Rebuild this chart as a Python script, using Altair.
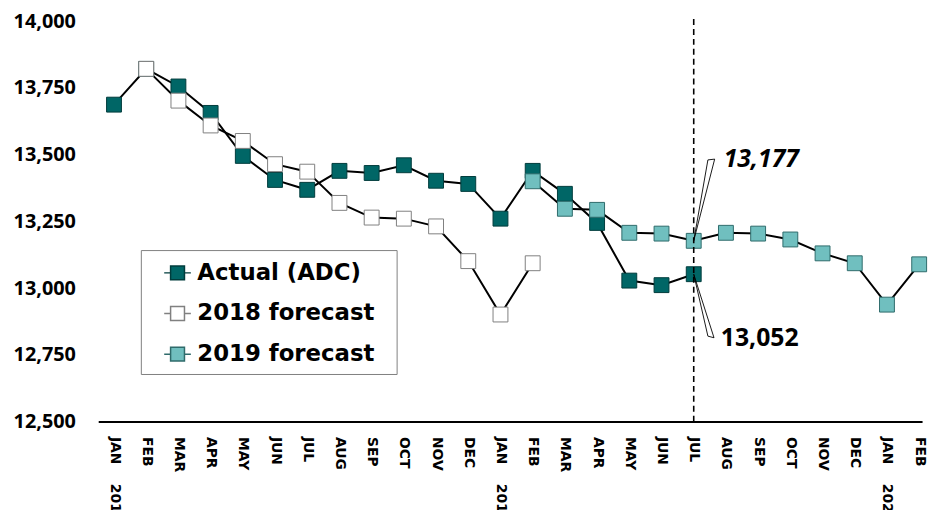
import json
import altair as alt
import pandas as pd

NB = "\u00a0"
MONTH_LABELS = [
    "JAN" + NB * 4 + "2018", "FEB", "MAR", "APR", "MAY", "JUN", "JUL", "AUG",
    "SEP", "OCT", "NOV", "DEC",
    "JAN" + NB * 4 + "2019", "FEB", "MAR", "APR", "MAY", "JUN", "JUL", "AUG",
    "SEP", "OCT", "NOV", "DEC",
    "JAN" + NB * 4 + "2020", "FEB",
]

SERIES = ["Actual (ADC)", "2018 forecast", "2019 forecast"]
FILLS = ["#006666", "#ffffff", "#70bfbf"]
STROKES = ["#003c3c", "#808080", "#2f6b6b"]

ACTUAL_START = 0
ACTUAL = [13687, 13821, 13755, 13656, 13495, 13405, 13368, 13439, 13431, 13460,
          13402, 13390, 13260, 13439, 13353, 13244, 13028, 13011, 13052]
FC2018_START = 1
FC2018 = [13821, 13702, 13609, 13551, 13464, 13436, 13319, 13264, 13260, 13231,
          13101, 12901, 13093]
FC2019_START = 13
FC2019 = [13400, 13297, 13293, 13207, 13204, 13177, 13207, 13204, 13182, 13130,
          13093, 12938, 13089]

Y_TICKS = [12500, 12750, 13000, 13250, 13500, 13750, 14000]
MARKER_MONTH = 18

# callout wedges (month index, value) and their labels
WEDGE_HIGH_X = [18, 18.44, 18.65]
WEDGE_HIGH_Y = [13177, 13480, 13483]
WEDGE_LOW_X = [18, 18.44, 18.63]
WEDGE_LOW_Y = [13052, 12820, 12814]
LABEL_X = [18.93, 18.84]
LABEL_Y = [13484, 12812]
LABEL_TEXT = ["13,177", "13,052"]

rows = []
for name, start, vals in [(SERIES[0], ACTUAL_START, ACTUAL),
                          (SERIES[1], FC2018_START, FC2018),
                          (SERIES[2], FC2019_START, FC2019)]:
    for i, v in enumerate(vals):
        rows.append({"series": name, "idx": start + i, "value": v})
df = pd.DataFrame(rows)

wedge_rows = []
for wid, xs, ys in [("high", WEDGE_HIGH_X, WEDGE_HIGH_Y), ("low", WEDGE_LOW_X, WEDGE_LOW_Y)]:
    for k, (wx, wy) in enumerate(zip(xs, ys)):
        wedge_rows.append({"wid": wid, "ord": k, "idx": wx, "value": wy})
wedge_df = pd.DataFrame(wedge_rows)

label_df = pd.DataFrame({"idx": LABEL_X, "value": LABEL_Y, "text": LABEL_TEXT})

x_scale = alt.Scale(domain=[-0.49, 25.09], nice=False, zero=False)
y_scale = alt.Scale(domain=[12500, 14000], nice=False, zero=False)

label_expr = json.dumps(MONTH_LABELS, ensure_ascii=False) + "[datum.value]"

x_axis = alt.Axis(values=list(range(len(MONTH_LABELS))), labelExpr=label_expr,
                  labelAngle=90, labelAlign="left", labelBaseline="middle",
                  labelFont="DejaVu Sans", labelFontWeight="bold", labelFontSize=14,
                  labelColor="black", labelPadding=15, ticks=False,
                  domainColor="black", domainWidth=2, grid=False, title=None,
                  labelOverlap=False, labelFlush=False, labelBound=False,
                  labelLimit=300)
y_axis = alt.Axis(values=Y_TICKS, format=",.0f", labelFont="Open Sans",
                  labelFontWeight="bold", labelFontSize=20, labelColor="black",
                  labelPadding=23, ticks=False, domain=False, grid=False, title=None)

X = alt.X("idx:Q", scale=x_scale, axis=x_axis)
Y = alt.Y("value:Q", scale=y_scale, axis=y_axis)

lines = alt.Chart(df).mark_line(color="black", strokeWidth=2).encode(
    x=X, y=Y, detail="series:N")

legend = alt.Legend(
    orient="none", legendX=43, legendY=231,
    title="x", titleOrient="right", titleColor="white", titleFontSize=10,
    titlePadding=8,
    labelFont="DejaVu Sans", labelFontWeight="bold", labelFontSize=23,
    labelColor="black", labelLimit=500,
    symbolType="M-0.96,0H-0.5M0.5,0H0.96M-0.5,-0.5H0.5V0.5H-0.5Z",
    symbolSize=784, symbolStrokeColor="black", symbolStrokeWidth=1.5,
    symbolOffset=14, labelOffset=5, rowPadding=14, padding=8,
    strokeColor="#808080", fillColor="white",
)

points = alt.Chart(df).mark_square(size=225, strokeWidth=1, opacity=1).encode(
    x=X, y=Y,
    fill=alt.Fill("series:N", scale=alt.Scale(domain=SERIES, range=FILLS), legend=legend),
    stroke=alt.Stroke("series:N", scale=alt.Scale(domain=SERIES, range=STROKES), legend=None),
)

rule = alt.Chart(pd.DataFrame({"idx": [MARKER_MONTH]})).mark_rule(
    color="black", strokeWidth=1.6, strokeDash=[6, 4]).encode(
    x=X, y=alt.datum(12500), y2=alt.value(-4))

wedges = alt.Chart(wedge_df).mark_line(
    color="black", strokeWidth=0.9, interpolate="linear-closed").encode(
    x=X, y=Y, detail="wid:N", order="ord:Q")

label_hi = alt.Chart(label_df.iloc[[0]]).mark_text(
    font="Open Sans", fontSize=25, fontWeight="bold", fontStyle="italic",
    align="left", baseline="middle", color="black").encode(x=X, y=Y, text="text:N")
label_lo = alt.Chart(label_df.iloc[[1]]).mark_text(
    font="Open Sans", fontSize=25, fontWeight="bold",
    align="left", baseline="middle", color="black").encode(x=X, y=Y, text="text:N")

chart = alt.layer(lines, points, rule, wedges, label_hi, label_lo).properties(
    width=831, height=404,
    autosize=alt.AutoSizeParams(type="none"),
    padding={"left": 91, "top": 11, "right": 8, "bottom": 87},
    background="white",
).configure_view(stroke=None)

chart.save("out.html", embed_options={"renderer": "svg", "actions": False})
